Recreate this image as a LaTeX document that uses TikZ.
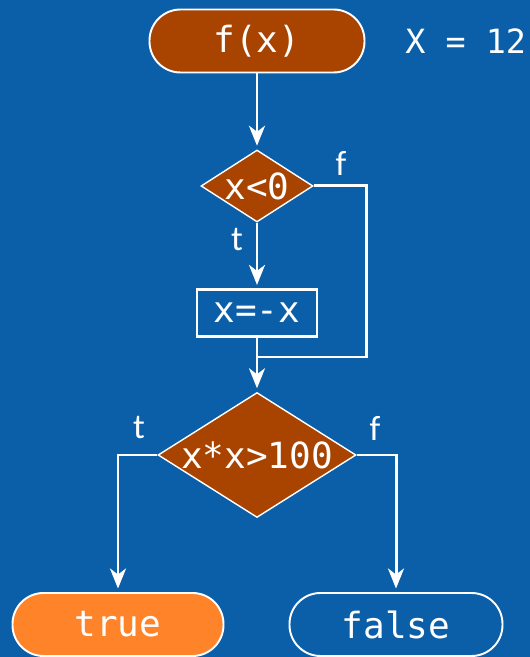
\documentclass[tikz,border=0pt]{standalone}
\usepackage{fontspec}
\setmonofont{DejaVu Sans Mono}
\newfontfamily\lblfont{Carlito}
\usepackage{tikz}
\usetikzlibrary{arrows.meta,shapes.geometric,positioning}
\definecolor{bgblue}{HTML}{0B5EA8}
\definecolor{brick}{HTML}{A94400}
\definecolor{tang}{HTML}{FF8329}
\tikzset{
  term/.style={rectangle,rounded corners=0.62cm,draw=white,line width=1.1pt,minimum width=4.3cm,minimum height=1.26cm,inner sep=0pt,text=white,font=\ttfamily\fontsize{20.5}{24}\selectfont},
  dec/.style={diamond,draw=white,fill=brick,line width=0.8pt,inner sep=0pt,text=white,font=\ttfamily\fontsize{20.5}{24}\selectfont},
  act/.style={rectangle,draw=white,line width=1.2pt,minimum width=2.4cm,minimum height=0.94cm,inner sep=0pt,text=white,font=\ttfamily\fontsize{20.5}{24}\selectfont},
  lnk/.style={draw=white,line width=1.7pt},
  flw/.style={lnk,-{Stealth[length=0.4cm,width=0.32cm,inset=0.12cm]},shorten >=2pt},
  lb/.style={text=white,font=\lblfont\fontsize{20}{24}\selectfont},
}

\begin{document}
\begin{tikzpicture}
\useasboundingbox (0,0) rectangle (10.6,13.14);
\fill[bgblue] (0,0) rectangle (10.6,13.14);

\node[term,fill=brick] (fx) at (5.14,12.32) {f(x)};
\node[anchor=west,inner sep=0pt,text=white,font=\ttfamily\fontsize{19}{23}\selectfont] (xval) at (8.1,12.32) {X = 12};

\node[dec,aspect=1.56,minimum width=2.24cm,minimum height=1.44cm] (dA) at (5.14,9.42) {x<0};
\node[act] (neg) at (5.14,6.88) {x=-x};
\coordinate (mrg) at (5.14,6.0);
\coordinate (fturn) at (7.32,6.0);
\node[dec,aspect=1.58,minimum width=3.96cm,minimum height=2.5cm] (dB) at (5.14,4.04) {x*x>100};

\node[term,fill=tang,minimum width=4.22cm] (tru) at (2.36,0.65) {true};
\node[term,minimum width=4.26cm] (fls) at (7.92,0.65) {false};

\draw[flw] (fx) -- (dA);
\draw[flw] (dA) -- (neg);
\draw[lnk] (dA.east) -| (fturn) -- (mrg);
\draw[lnk] (neg) -- (mrg);
\draw[flw] (mrg) -- (dB);
\draw[flw] (dB.west) -| (tru.north);
\draw[flw] (dB.east) -| (fls.north);

\node[lb] at (4.74,8.34) {t};
\node[lb] at (6.82,9.88) {f};
\node[lb] at (2.78,4.58) {t};
\node[lb] at (7.5,4.58) {f};
\end{tikzpicture}
\end{document}
